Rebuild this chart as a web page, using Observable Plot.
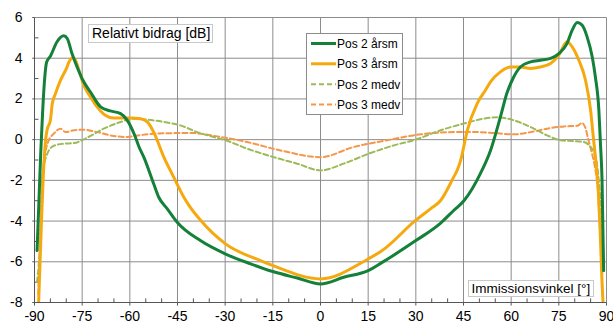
<!DOCTYPE html>
<html><head><meta charset="utf-8">
<script src="https://cdn.jsdelivr.net/npm/d3@7"></script>
<script src="https://cdn.jsdelivr.net/npm/@observablehq/plot@0.6"></script>
<style>
body{margin:0;background:#fff;}
#chart{position:relative;width:613px;height:323px;}
#chart svg{display:block;}
</style></head><body><div id="chart"></div>
<script>
// ---- data ----
const seriesNames = ["Pos 2 årsm", "Pos 3 årsm", "Pos 2 medv", "Pos 3 medv"];

const pos2arsmX = [-89.2,-88.6,-88.0,-87.4,-86.8,-86.2,-85.0,-82.9,-80.8,-79.7,-78.2,-76.6,-74.5,-72.4,-69.2,-66.1,-62.9,-60.8,-58.7,-57.1,-55.6,-52.5,-50.9,-48.2,-45.1,-37.8,-30,-22,-15,-7.3,0,7.3,15,19.4,30,37.8,41.9,45.2,50.3,53.5,56.6,58.7,60.8,62.9,66.1,69.2,72.4,75.0,77.6,79.2,80.8,82.3,83.9,85.5,86.5,87.6,88.1,88.6,89.1];
const pos2arsmY = [-5.45,-3.0,-0.5,1.5,3.0,3.8,4.1,4.81,5.10,4.97,4.23,3.57,2.84,2.34,1.61,1.41,1.28,0.95,0.30,-0.36,-0.86,-2.17,-2.83,-3.40,-4.06,-4.96,-5.61,-6.1,-6.48,-6.8,-7.09,-6.76,-6.43,-6.03,-4.96,-4.1,-3.48,-2.99,-1.67,-0.53,1.11,2.3,3.08,3.57,3.82,3.90,3.99,4.23,4.73,5.38,5.76,5.63,5.05,4.07,3.08,1.44,-0.2,-2.0,-6.44];

const pos3arsmX = [-88.7,-87.8,-87.3,-86.5,-86.0,-85.0,-84.4,-83.4,-81.8,-80.2,-78.7,-77.8,-77.1,-76.0,-74.5,-72.4,-70.3,-67.7,-65.1,-59.8,-56.6,-54.5,-52.5,-49.3,-46.2,-43.0,-41.4,-37.8,-29.9,-18.9,-14.9,0,15,19.4,29.9,34.6,37.8,41.9,43.0,44.1,46.2,49.3,51.9,53.5,56.6,59.8,62.9,66.1,69.2,72.4,75.0,77.6,79.2,81.3,83.4,85.0,85.8,86.6,87.4,88.0,88.6,88.9];
const pos3arsmY = [-8.0,-4.0,-2.0,0,0.5,0.95,1.77,2.26,2.92,3.41,3.94,4.04,3.90,3.41,2.67,2.10,1.61,1.20,1.06,1.06,1.03,0.87,0.37,-0.86,-1.84,-2.83,-3.23,-3.95,-5.12,-5.94,-6.19,-6.84,-5.86,-5.45,-3.97,-3.40,-2.99,-1.84,-1.51,-1.02,0.46,1.77,2.43,2.84,3.33,3.57,3.57,3.50,3.57,3.74,4.15,4.81,4.56,3.90,2.92,1.44,0.2,-1.0,-2.5,-4.5,-7.0,-8.0];

const pos2medvX = [-89.2,-88.1,-87.6,-86.8,-86.0,-83.9,-80.8,-77.6,-73.4,-68.2,-62.9,-58.7,-54.5,-49.3,-44.1,-38.8,-33.6,-29.9,-23.1,-14.7,-7.3,0,7.3,15.2,23.1,29.9,37.8,45.1,51.4,55.6,60.8,66.1,71.3,75.5,79.7,82.9,85.0,86.0,87.0,88.0,88.7,89.2];
const pos2medvY = [-7.0,-4.47,-2.0,-1.1,-0.7,-0.3,-0.2,-0.17,0.1,0.54,0.87,1.03,0.98,0.87,0.70,0.37,0.13,-0.03,-0.44,-0.86,-1.18,-1.51,-1.18,-0.69,-0.28,0,0.46,0.79,1.03,1.1,0.95,0.62,0.21,-0.03,-0.07,-0.12,-0.36,-0.6,-1.2,-2.8,-4.5,-6.2];

const pos3medvX = [-88.8,-88.2,-87.6,-87.1,-86.3,-85.5,-83.9,-81.8,-80.2,-77.6,-74.5,-70.3,-66.1,-60.8,-57.7,-51.4,-40.9,-32.5,-23.1,-12.6,0,10.5,21.0,31.5,41.9,49.3,56.6,60.8,66.1,71.3,76.6,80.8,82.3,83.3,84.3,85.3,86.3,87.3,88.0,88.5,88.7];
const pos3medvY = [-7.6,-5.0,-2.5,-1.18,-0.4,-0.03,0.30,0.54,0.37,0.46,0.49,0.37,0.21,0.13,0.2,0.30,0.33,0.16,-0.12,-0.53,-0.86,-0.36,-0.03,0.26,0.37,0.37,0.30,0.26,0.37,0.54,0.65,0.68,0.82,0.6,0.0,-0.6,-1.3,-2.5,-4.5,-6.5,-7.6];

const xTicks = [-90,-75,-60,-45,-30,-15,0,15,30,45,60,75,90];
const yTicks = [-8,-6,-4,-2,0,2,4,6];
const xMinorTicks = d3.range(-85, 90, 5).filter(v => v % 15 !== 0);
const yMinorTicks = [-7,-5,-3,-1,1,3,5];
const yLabel = "Relativt bidrag [dB]";
const xLabel = "Immissionsvinkel [°]";

// ---- styles ----
const colors = ["#15803a", "#f6a90f", "#9bbb59", "#f79646"];
const widths = [3, 3, 2, 2];
const dashes = [null, null, "5,3", "5,3"];
const gridColor = "#8c8c8c";
const axisColor = "#555";

const toRows = (xs, ys) => xs.map((x, i) => ({x, y: ys[i]}));
const seriesRows = [
  toRows(pos2arsmX, pos2arsmY),
  toRows(pos3arsmX, pos3arsmY),
  toRows(pos2medvX, pos2medvY),
  toRows(pos3medvX, pos3medvY)
];
const fmt = d => String(d);
const font = "'Liberation Sans', Arial, sans-serif";
const [xMin, xMax] = [-90, 90];
const [yMin, yMax] = [-8, 6];

const lineMarks = [3, 2, 1, 0].map(i => Plot.line(seriesRows[i], {
  x: "x", y: "y", curve: "monotone-x",
  stroke: colors[i], strokeWidth: widths[i], strokeDasharray: dashes[i],
  clip: true
}));

// grid and ticks drawn as paths (link marks)
const vGrid = Plot.link(xTicks, {x1: d => d, x2: d => d, y1: yMin, y2: yMax, stroke: gridColor, strokeWidth: 1});
const hGrid = Plot.link(yTicks, {y1: d => d, y2: d => d, x1: xMin, x2: xMax, stroke: gridColor, strokeWidth: 1});
const xMajorTick = Plot.link(xTicks, {x1: d => d, x2: d => d, y1: yMin, y2: yMin - 0.15, stroke: axisColor});
const yMajorTick = Plot.link(yTicks, {y1: d => d, y2: d => d, x1: xMin, x2: xMin - 0.7, stroke: axisColor});
const xMinorTick = Plot.link(xMinorTicks, {x1: d => d, x2: d => d, y1: yMin, y2: yMin + 0.2, stroke: axisColor});
const yMinorTick = Plot.link(yMinorTicks, {y1: d => d, y2: d => d, x1: xMin, x2: xMin + 1.25, stroke: axisColor});
const leftAxis = Plot.link([xMin], {x1: d => d, x2: d => d, y1: yMin, y2: yMax, stroke: axisColor});
const bottomAxis = Plot.link([yMin], {y1: d => d, y2: d => d, x1: xMin, x2: xMax, stroke: axisColor});

const chart = Plot.plot({
  width: 613, height: 323,
  marginLeft: 34, marginRight: 7, marginTop: 17, marginBottom: 21,
  style: {fontFamily: font, fontSize: "14px", color: "#000", background: "#fff"},
  x: {domain: [xMin, xMax]},
  y: {domain: [yMin, yMax]},
  marks: [
    vGrid, hGrid,
    xMinorTick, yMinorTick, xMajorTick, yMajorTick,
    leftAxis, bottomAxis,
    Plot.axisX(xTicks, {tickSize: 0, tickPadding: 9, tickFormat: fmt, label: null, fontSize: 14}),
    Plot.axisY(yTicks, {tickSize: 0, tickPadding: 12, tickFormat: fmt, label: null, fontSize: 14}),
    ...lineMarks
  ]
});

document.getElementById("chart").appendChild(chart);

// ---- overlays: axis label boxes and legend ----
const svg = d3.select(chart);
const g = svg.append("g").attr("font-family", font).attr("fill", "#000").attr("text-anchor", "start");

function labelBox(x, y, w, h, text, tx, ty, size) {
  g.append("rect").attr("x", x).attr("y", y).attr("width", w).attr("height", h)
    .attr("fill", "#fff").attr("stroke", "#c8c8c8");
  g.append("text").attr("x", tx).attr("y", ty).attr("font-size", size)
    .attr("text-anchor", "start").text(text);
}
labelBox(88.5, 24.5, 124, 18, yLabel, 92, 38, "14px");
labelBox(468.5, 280.5, 125, 16, xLabel, 471.5, 293, "13.5px");

const lg = g.append("g");
lg.append("rect").attr("x", 306.5).attr("y", 33.5).attr("width", 96).attr("height", 81)
  .attr("fill", "#fff").attr("stroke", gridColor);
const rowY = [43.5, 63.8, 84.2, 104.6];
seriesNames.forEach((name, i) => {
  const p = lg.append("path").attr("d", `M311,${rowY[i]}H336`)
    .attr("fill", "none").attr("stroke", colors[i]).attr("stroke-width", widths[i]);
  if (dashes[i]) p.attr("stroke-dasharray", dashes[i]);
  lg.append("text").attr("x", 337).attr("y", rowY[i] + 4.3).attr("font-size", "12px")
    .attr("text-anchor", "start").text(name);
});
</script>
</body></html>
